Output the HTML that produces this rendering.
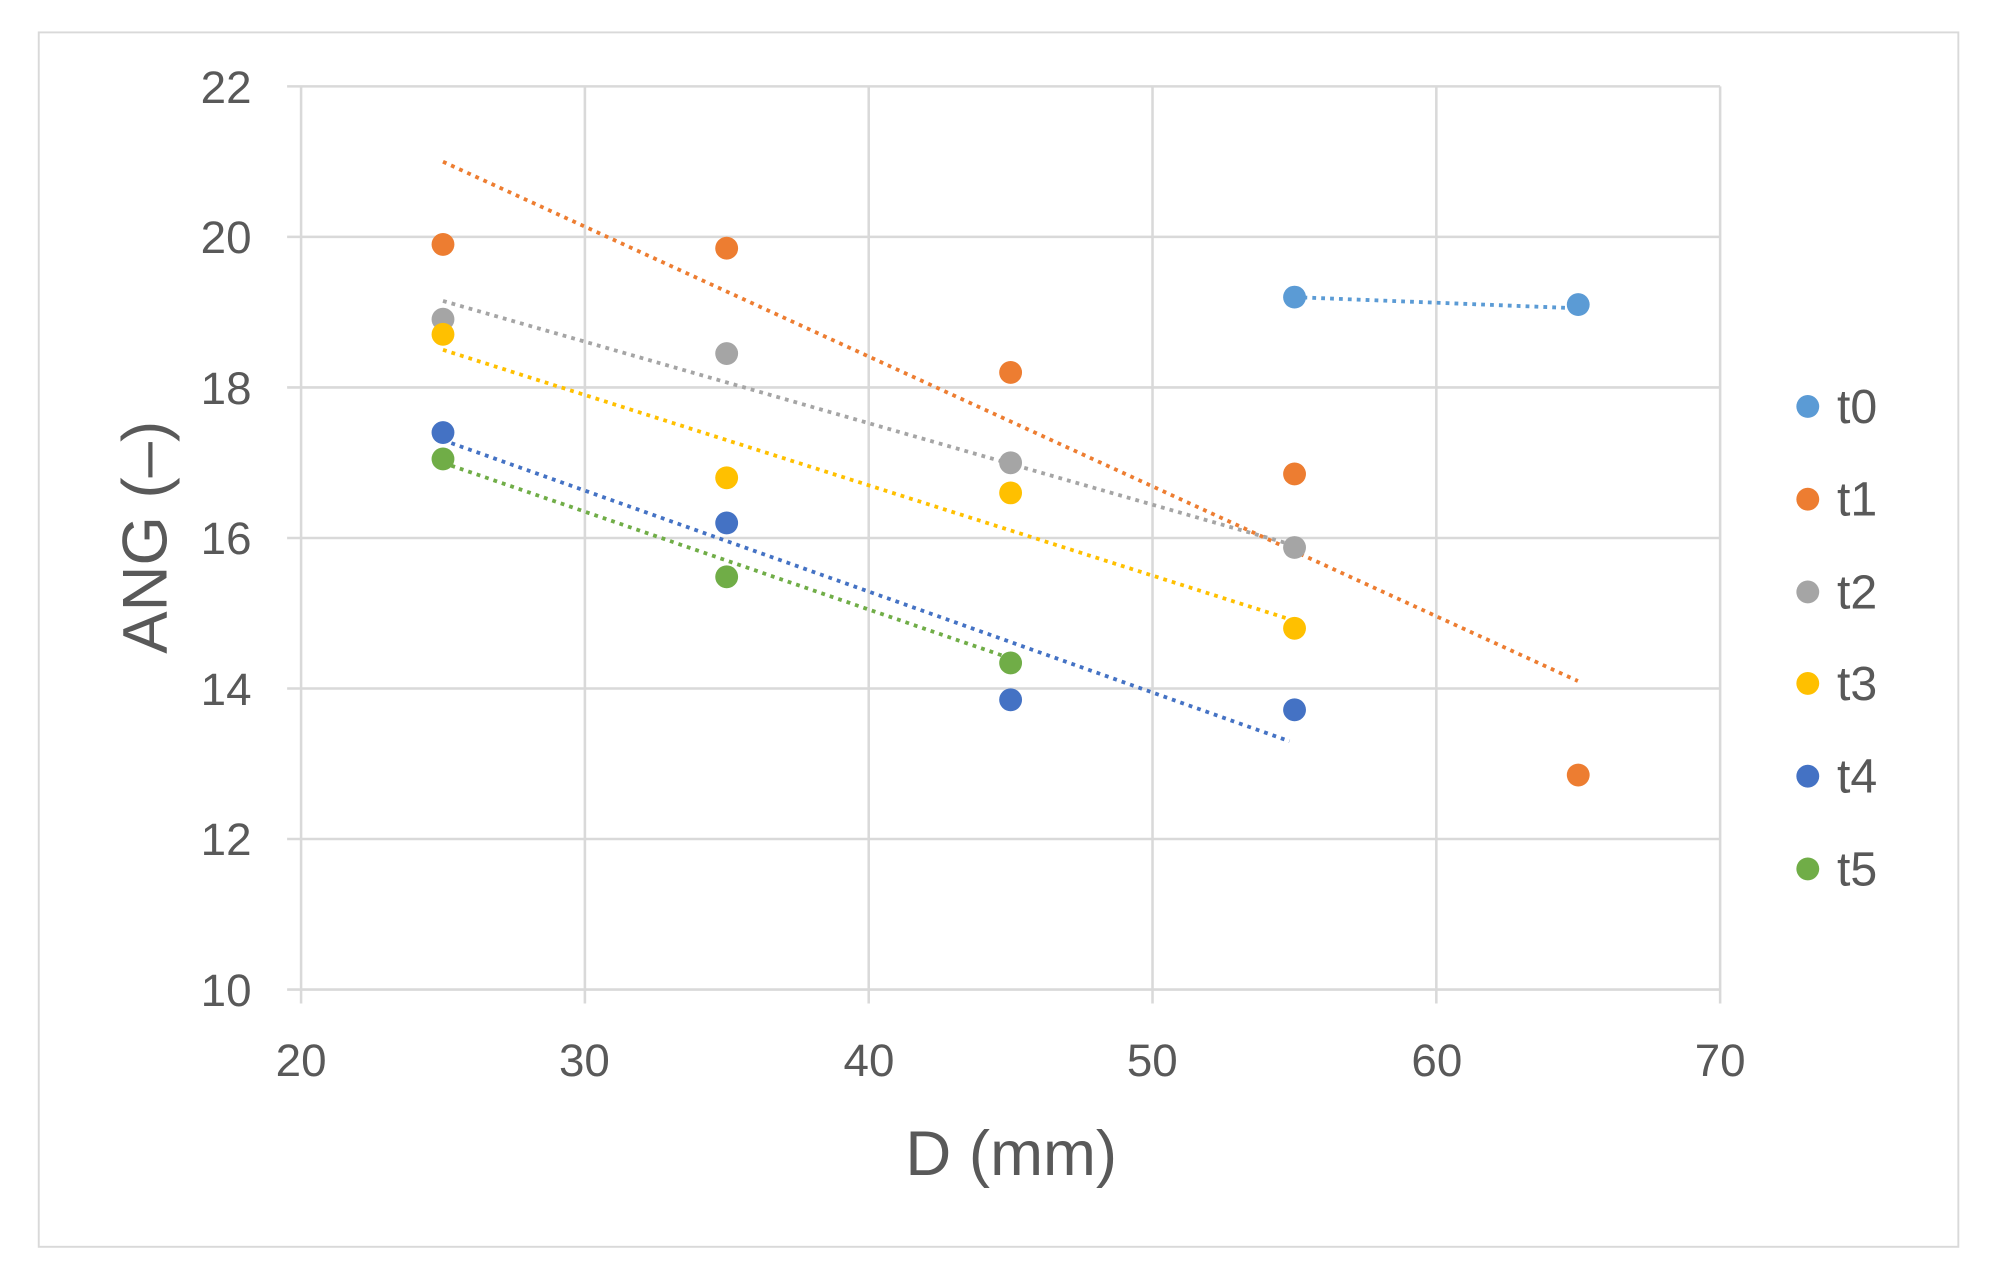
<!DOCTYPE html>
<html><head><meta charset="utf-8"><style>
html,body{margin:0;padding:0;background:#fff;}
svg{display:block;}
text{font-family:"Liberation Sans",sans-serif;fill:#595959;}
</style></head><body>
<svg width="1992" height="1283" viewBox="0 0 1568 1010" preserveAspectRatio="none" xmlns="http://www.w3.org/2000/svg">
<rect x="0" y="0" width="1568" height="1010" fill="#fff"/>
<rect x="30.5" y="25.5" width="1511" height="956" fill="#fff" stroke="#d9d9d9" stroke-width="1.5"/>
<g stroke="#d9d9d9" stroke-width="2">
<line x1="226" y1="68" x2="1354" y2="68"/>
<line x1="226" y1="186.5" x2="1354" y2="186.5"/>
<line x1="226" y1="305" x2="1354" y2="305"/>
<line x1="226" y1="423.5" x2="1354" y2="423.5"/>
<line x1="226" y1="542" x2="1354" y2="542"/>
<line x1="226" y1="660.5" x2="1354" y2="660.5"/>
<line x1="226" y1="779" x2="1354" y2="779"/>
<line x1="237" y1="68" x2="237" y2="790"/>
<line x1="460.4" y1="68" x2="460.4" y2="790"/>
<line x1="683.8" y1="68" x2="683.8" y2="790"/>
<line x1="907.2" y1="68" x2="907.2" y2="790"/>
<line x1="1130.6" y1="68" x2="1130.6" y2="790"/>
<line x1="1354" y1="68" x2="1354" y2="790"/>
</g>
<g font-size="36" text-anchor="end">
<text x="198" y="81">22</text><text x="198" y="199">20</text><text x="198" y="318">18</text>
<text x="198" y="436">16</text><text x="198" y="555">14</text><text x="198" y="673">12</text><text x="198" y="792">10</text>
</g>
<g font-size="36" text-anchor="middle">
<text x="237" y="847">20</text><text x="460" y="847">30</text><text x="684" y="847">40</text>
<text x="907" y="847">50</text><text x="1131" y="847">60</text><text x="1354" y="847">70</text>
</g>
<text x="796" y="925" font-size="50" text-anchor="middle">D (mm)</text>
<text transform="translate(131,423) rotate(-90)" font-size="50" text-anchor="middle">ANG (–)</text>
<g stroke-width="3" stroke-dasharray="3,4" fill="none">
<line x1="1019" y1="233.9" x2="1242" y2="242.7" stroke="#5B9BD5"/>
<line x1="348.7" y1="127.3" x2="1242" y2="536.1" stroke="#ED7D31"/>
<line x1="348.7" y1="236.9" x2="1019" y2="429.4" stroke="#A5A5A5"/>
<line x1="348.7" y1="275.4" x2="1019" y2="488.7" stroke="#FFC000"/>
<line x1="348.7" y1="346.5" x2="1015" y2="583.5" stroke="#4472C4"/>
<line x1="348.7" y1="364.3" x2="795.5" y2="518.3" stroke="#70AD47"/>
</g>
<g fill="#5B9BD5"><circle cx="1019" cy="233.9" r="9"/><circle cx="1242.3" cy="239.8" r="9"/></g>
<g fill="#ED7D31"><circle cx="348.7" cy="192.4" r="9"/><circle cx="572" cy="195.4" r="9"/><circle cx="795.5" cy="293.2" r="9"/><circle cx="1019" cy="373.1" r="9"/><circle cx="1242.3" cy="610.1" r="9"/></g>
<g fill="#A5A5A5"><circle cx="348.7" cy="251.3" r="9"/><circle cx="572" cy="278.3" r="9"/><circle cx="795.5" cy="364.3" r="9"/><circle cx="1019" cy="431" r="9"/></g>
<g fill="#FFC000"><circle cx="348.7" cy="263.2" r="9"/><circle cx="572" cy="376.1" r="9"/><circle cx="795.5" cy="388" r="9"/><circle cx="1019" cy="494.6" r="9"/></g>
<g fill="#4472C4"><circle cx="348.7" cy="340.5" r="9"/><circle cx="572" cy="411.7" r="9"/><circle cx="795.5" cy="550.9" r="9"/><circle cx="1019" cy="558.8" r="9"/></g>
<g fill="#70AD47"><circle cx="348.7" cy="361.3" r="9"/><circle cx="572" cy="454.1" r="9"/><circle cx="795.5" cy="521.9" r="9"/></g>
<g font-size="38">
<circle cx="1423" cy="320" r="9" fill="#5B9BD5"/><text x="1446" y="333">t0</text>
<circle cx="1423" cy="393" r="9" fill="#ED7D31"/><text x="1446" y="406">t1</text>
<circle cx="1423" cy="466" r="9" fill="#A5A5A5"/><text x="1446" y="479">t2</text>
<circle cx="1423" cy="538" r="9" fill="#FFC000"/><text x="1446" y="551">t3</text>
<circle cx="1423" cy="611" r="9" fill="#4472C4"/><text x="1446" y="624">t4</text>
<circle cx="1423" cy="684" r="9" fill="#70AD47"/><text x="1446" y="697">t5</text>
</g>
</svg>
</body></html>
